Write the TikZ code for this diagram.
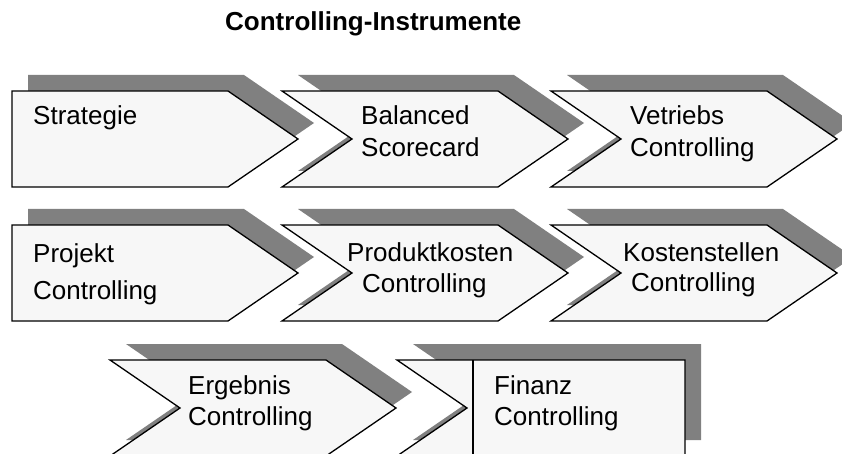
\documentclass[tikz,border=0pt]{standalone}
\usepackage{fontspec}
\setmainfont{Liberation Sans}
\definecolor{shadowgray}{HTML}{808080}
\definecolor{bodygray}{HTML}{F7F7F7}
% outlines of the three process-step shapes, relative to their top-left corner
\newcommand\tipshape{(0,0) -- (216,0) -- (286,48) -- (216,96) -- (0,96) -- cycle}
\newcommand\notchshape{(0,0) -- (216,0) -- (286,48) -- (216,96) -- (0,96) -- (70,48) -- cycle}
\newcommand\lastshape{(0,0) -- (288,0) -- (288,96) -- (0,96) -- (70,48) -- cycle}
\tikzset{
  drop/.style={fill=shadowgray, draw=none, xshift=16pt, yshift=16pt},
  body/.style={fill=bodygray, draw=black, line width=1.3pt, line join=miter},
  lbl/.style={anchor=base west, inner sep=0pt, font=\fontsize{26}{31}\selectfont},
  ttl/.style={anchor=base west, inner sep=0pt, font=\bfseries\fontsize{26}{31}\selectfont},
}
\begin{document}
\begin{tikzpicture}[x=1pt, y=-1pt]
\useasboundingbox (0,0) rectangle (842,454);
\clip (0,0) rectangle (842,454);
\fill[white] (0,0) rectangle (842,454);

% drop shadows
\foreach \px/\py/\kind in {12/91/tipshape, 282/91/notchshape, 551/91/notchshape,
                          12/225/tipshape, 282/225/notchshape, 551/225/notchshape,
                          110/360/notchshape, 397/360/lastshape}{
  \begin{scope}[shift={(\px,\py)}]
    \fill[drop] \csname\kind\endcsname;
  \end{scope}
}
% step shapes
\foreach \px/\py/\kind in {12/91/tipshape, 282/91/notchshape, 551/91/notchshape,
                          12/225/tipshape, 282/225/notchshape, 551/225/notchshape,
                          110/360/notchshape, 397/360/lastshape}{
  \begin{scope}[shift={(\px,\py)}]
    \draw[body] \csname\kind\endcsname;
  \end{scope}
}
% inner edge of the last box
\coordinate (fintop) at (473,360);
\coordinate (finbot) at (473,460);
\draw[line width=1.3pt] (fintop) -- (finbot);

% title
\node[ttl] (title) at (225,31) {Controlling-Instrumente};

% labels, first row
\node[lbl] (strat) at (33,125) {Strategie};
\node[lbl] (bsc1) at (361,125) {Balanced};
\node[lbl] (bsc2) at (361,157) {Scorecard};
\node[lbl] (vt1) at (630,125) {Vetriebs};
\node[lbl] (vt2) at (630,157) {Controlling};

% labels, second row
\node[lbl] (pj1) at (33,262) {Projekt};
\node[lbl] (pj2) at (33,299) {Controlling};
\node[lbl] (pk1) at (347,261) {Produktkosten};
\node[lbl] (pk2) at (362,292) {Controlling};
\node[lbl] (ks1) at (623,261) {Kostenstellen};
\node[lbl] (ks2) at (631,291) {Controlling};

% labels, third row
\node[lbl] (eg1) at (188,394) {Ergebnis};
\node[lbl] (eg2) at (188,425) {Controlling};
\node[lbl] (fn1) at (494,394) {Finanz};
\node[lbl] (fn2) at (494,425) {Controlling};
\end{tikzpicture}
\end{document}
